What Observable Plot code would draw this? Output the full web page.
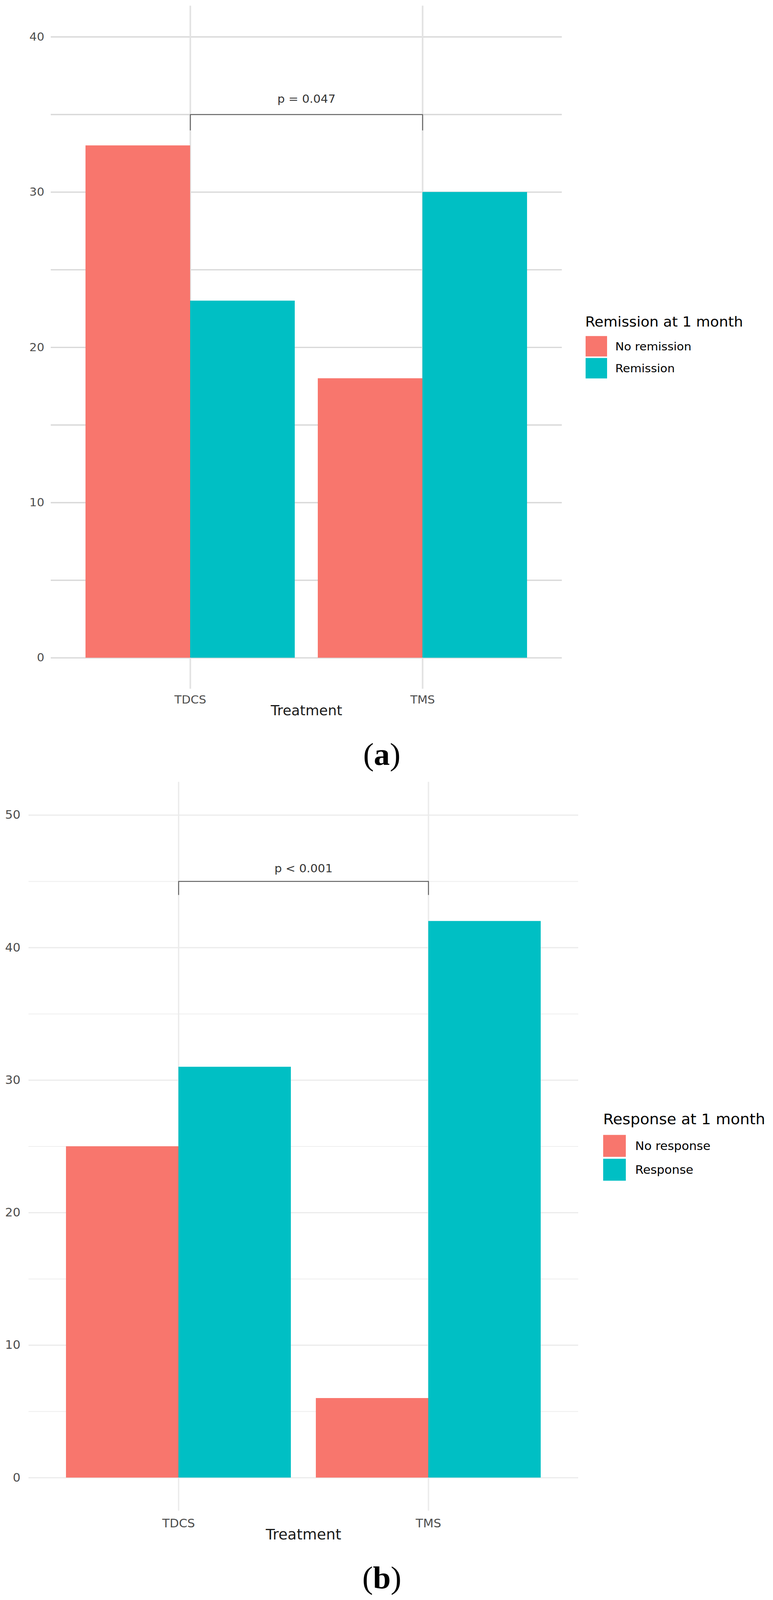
<!DOCTYPE html>
<html>
<head>
<meta charset="utf-8">
<script src="https://cdn.jsdelivr.net/npm/d3@7"></script>
<script src="https://cdn.jsdelivr.net/npm/@observablehq/plot@0.6"></script>
<style>
  html, body { margin: 0; padding: 0; background: #fff; overflow: hidden; }
  #page { position: relative; width: 1980px; height: 4228px; background: #fff; overflow: hidden; font-family: "DejaVu Sans", sans-serif; transform-origin: 0 0; }
  .layer { position: absolute; left: 0; }
  .abs { position: absolute; white-space: nowrap; line-height: 1; }
  .key { position: absolute; }
  .cap { position: absolute; font-family: "Liberation Serif", "DejaVu Serif", serif; line-height: 1; text-align: center; color: #000; }
</style>
</head>
<body>
<div id="page"></div>
<script>
// ---------- data ----------
const treatments = ["TDCS", "TMS"];
const remissionGroups = ["No remission", "Remission"];
const remissionNo = [33, 18];
const remissionYes = [23, 30];
const responseGroups = ["No response", "Response"];
const responseNo = [25, 6];
const responseYes = [31, 42];
const fillColors = ["#F8766D", "#00BFC4"];
const majorTicksA = [0, 10, 20, 30, 40];
const minorTicksA = [5, 15, 25, 35];
const majorTicksB = [0, 10, 20, 30, 40, 50];
const minorTicksB = [5, 15, 25, 35, 45];
const legendTitleA = "Remission at 1 month";
const legendTitleB = "Response at 1 month";
const xTitle = "Treatment";
const pLabelA = "p = 0.047";
const pLabelB = "p < 0.001";
const bracketA = [35, 34]; // bar level, tip level
const bracketB = [45, 44];

const page = document.getElementById("page");

function panel(cfg) {
  const rows = treatments.flatMap((t, i) => [
    {treatment: t, group: cfg.groups[0], count: cfg.no[i]},
    {treatment: t, group: cfg.groups[1], count: cfg.yes[i]}
  ]);
  const bracket = [
    {x: treatments[0], y: cfg.bracket[1]},
    {x: treatments[0], y: cfg.bracket[0]},
    {x: treatments[1], y: cfg.bracket[0]},
    {x: treatments[1], y: cfg.bracket[1]}
  ];
  const dims = {
    width: 1980, height: cfg.height,
    marginTop: cfg.marginTop, marginBottom: cfg.marginBottom,
    marginLeft: cfg.marginLeft, marginRight: cfg.marginRight
  };
  const bg = Plot.plot({
    ...dims,
    style: {fontFamily: "DejaVu Sans", background: "white", overflow: "visible"},
    x: {type: "point", domain: treatments, padding: 0.6},
    y: {domain: cfg.yDomain},
    marks: [
      Plot.ruleY(cfg.minor, {stroke: cfg.grid.minorColor, strokeWidth: cfg.grid.minorWidth}),
      Plot.ruleY(cfg.major, {stroke: cfg.grid.majorColor, strokeWidth: cfg.grid.majorWidth}),
      Plot.ruleX(treatments, {stroke: cfg.grid.vColor, strokeWidth: cfg.grid.vWidth}),
      Plot.axisY({ticks: cfg.major, tickSize: 0, tickPadding: cfg.padY, fontSize: cfg.small, fill: "#4d4d4d", label: null}),
      Plot.axisX({tickSize: 0, tickPadding: cfg.padX, fontSize: cfg.small, fill: "#4d4d4d", label: null}),
      Plot.text([xTitle], {frameAnchor: "bottom", text: d => d, dy: cfg.titleDy, fontSize: cfg.big, fill: "#1a1a1a"}),
      Plot.line(bracket, {x: "x", y: "y", stroke: "#555", strokeWidth: 2.2}),
      Plot.text([{label: cfg.pLabel, y: cfg.bracket[0]}], {y: "y", text: "label", dy: cfg.pDy, fontSize: cfg.pSize, fill: "#333"})
    ]
  });
  const fg = Plot.plot({
    ...dims,
    style: {background: "transparent", overflow: "visible"},
    fx: {domain: treatments, paddingInner: 0.1, paddingOuter: 0.15, axis: null, label: null},
    x: {domain: cfg.groups, padding: 0, axis: null},
    y: {domain: cfg.yDomain, axis: null},
    color: {domain: cfg.groups, range: fillColors},
    marks: [
      Plot.barY(rows, {fx: "treatment", x: "group", y: "count", fill: "group"})
    ]
  });
  for (const el of [bg, fg]) {
    el.classList.add("layer");
    el.style.top = cfg.top + "px";
    page.appendChild(el);
  }
  // legend
  const L = cfg.legend;
  const title = document.createElement("div");
  title.className = "abs";
  title.textContent = cfg.legendTitle;
  Object.assign(title.style, {left: L.titleX + "px", top: (L.titleCY - 0.48 * L.titleSize) + "px", fontSize: L.titleSize + "px", color: "#000"});
  page.appendChild(title);
  cfg.groups.forEach((g, i) => {
    const k = document.createElement("div");
    k.className = "key";
    Object.assign(k.style, {left: L.keyX + "px", top: L.keyTops[i] + "px", width: L.keyW + "px", height: L.keyH + "px", background: fillColors[i]});
    page.appendChild(k);
    const t = document.createElement("div");
    t.className = "abs";
    t.textContent = g;
    Object.assign(t.style, {left: L.labelX + "px", top: (L.keyTops[i] + L.keyH / 2 - 0.48 * L.labelSize) + "px", fontSize: L.labelSize + "px", color: "#000"});
    page.appendChild(t);
  });
  // caption
  const c = document.createElement("div");
  c.className = "cap";
  c.innerHTML = "(<b>" + cfg.caption + "</b>)";
  Object.assign(c.style, {left: (cfg.capX - 100) + "px", width: "200px", top: (cfg.capCY - 0.58 * cfg.capSize) + "px", fontSize: cfg.capSize + "px"});
  page.appendChild(c);
}

panel({
  top: 0, height: 1920, marginTop: 15, marginBottom: 100, marginLeft: 130, marginRight: 541,
  yDomain: [-2, 42], major: majorTicksA, minor: minorTicksA,
  groups: remissionGroups, no: remissionNo, yes: remissionYes,
  bracket: bracketA, pLabel: pLabelA, pDy: -41, pSize: 30,
  small: 30, big: 36, padX: 17, padY: 17, titleDy: 69,
  grid: {majorColor: "#d9d9d9", majorWidth: 3.5, minorColor: "#d9d9d9", minorWidth: 3.5, vColor: "#e2e2e2", vWidth: 4},
  legendTitle: legendTitleA,
  legend: {titleX: 1499, titleCY: 850, titleSize: 37, keyX: 1500, keyW: 55, keyH: 54, keyTops: [888, 946], labelX: 1576, labelSize: 30},
  caption: "a", capX: 978, capCY: 2001, capSize: 82
});

panel({
  top: 2040, height: 2052, marginTop: 26, marginBottom: 100, marginLeft: 73, marginRight: 499,
  yDomain: [-2.5, 52.5], major: majorTicksB, minor: minorTicksB,
  groups: responseGroups, no: responseNo, yes: responseYes,
  bracket: bracketB, pLabel: pLabelB, pDy: -34, pSize: 30,
  small: 31, big: 38, padX: 22, padY: 21, titleDy: 76,
  grid: {majorColor: "#ebebeb", majorWidth: 3, minorColor: "#eeeeee", minorWidth: 2, vColor: "#ebebeb", vWidth: 3.5},
  legendTitle: legendTitleB,
  legend: {titleX: 1545, titleCY: 2957, titleSize: 39, keyX: 1545, keyW: 58, keyH: 58, keyTops: [2999, 3062], labelX: 1627, labelSize: 31},
  caption: "b", capX: 978, capCY: 4177, capSize: 82
});

// fit the 1980x4228 figure into the viewport (keeps full width, fits height)
function fit() {
  const sx = Math.min(1, window.innerWidth / 1980);
  const sy = Math.min(1, window.innerHeight / 4228);
  page.style.transform = (sx < 1 || sy < 1) ? `scale(${sx}, ${sy})` : "";
}
fit();
window.addEventListener("resize", fit);
</script>
</body>
</html>
